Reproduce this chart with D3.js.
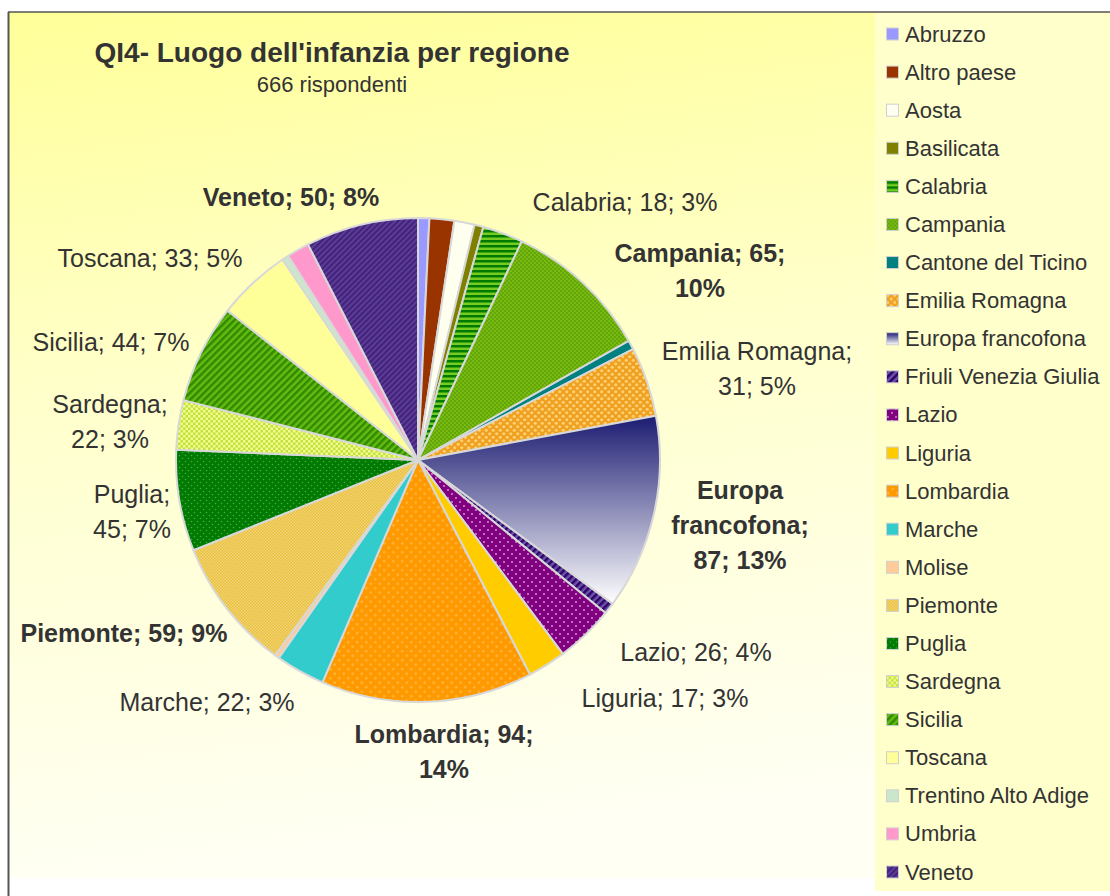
<!DOCTYPE html>
<html>
<head>
<meta charset="utf-8">
<script src="https://cdn.jsdelivr.net/npm/d3@7"></script>
<style>
  html, body { margin: 0; padding: 0; background: #ffffff; }
  svg { display: block; }
  text { font-family: "Liberation Sans", Arial, sans-serif; fill: #333333; }
</style>
</head>
<body>
<svg id="chart" width="1110" height="896"></svg>
<script>
// ---------- data ----------
const titleText = "QI4- Luogo dell'infanzia per regione";
const subtitleText = "666 rispondenti";
const categories = [
  "Abruzzo", "Altro paese", "Aosta", "Basilicata", "Calabria", "Campania",
  "Cantone del Ticino", "Emilia Romagna", "Europa francofona", "Friuli Venezia Giulia",
  "Lazio", "Liguria", "Lombardia", "Marche", "Molise", "Piemonte", "Puglia",
  "Sardegna", "Sicilia", "Toscana", "Trentino Alto Adige", "Umbria", "Veneto"
];
const values = [5, 11, 9, 4, 18, 65, 4, 31, 87, 5, 26, 17, 94, 22, 2, 59, 45, 22, 44, 33, 3, 10, 50];
const fills = [
  "#9999ff", "#993300", "#fffff0", "#808000", "url(#pCalabria)", "url(#pCampania)",
  "#008080", "url(#pEmilia)", "url(#gEuropa)", "url(#pFriuli)",
  "url(#pLazio)", "#ffcc00", "url(#pLombardia)", "#33cccc", "#ffcc99", "url(#pPiemonte)", "url(#pPuglia)",
  "url(#pSardegna)", "url(#pSicilia)", "#ffff99", "#cce6cc", "#ff99cc", "url(#pVeneto)"
];

// label placement (text layout only): centre x, first line centre y, tokens per line
const labelLayout = {
  "Veneto":            { x: 291, y: 197, lines: [4] },
  "Calabria":          { x: 625, y: 202, lines: [3] },
  "Campania":          { x: 700, y: 253, lines: [2, 1] },
  "Emilia Romagna":    { x: 757, y: 351, lines: [2, 2] },
  "Europa francofona": { x: 740, y: 490, lines: [1, 1, 2] },
  "Lazio":             { x: 696, y: 652, lines: [3] },
  "Liguria":           { x: 665, y: 698, lines: [3] },
  "Lombardia":         { x: 444, y: 734, lines: [2, 1] },
  "Marche":            { x: 207, y: 702, lines: [3] },
  "Piemonte":          { x: 124, y: 633, lines: [3] },
  "Puglia":            { x: 132, y: 494, lines: [1, 2] },
  "Sardegna":          { x: 110, y: 404, lines: [1, 2] },
  "Sicilia":           { x: 111, y: 342, lines: [3] },
  "Toscana":           { x: 150, y: 258, lines: [3] }
};

// ---------- drawing ----------
const svg = d3.select("#chart");
const defs = svg.append("defs");

// background gradient
const bg = defs.append("linearGradient").attr("id", "bgGrad")
  .attr("x1", 0).attr("y1", 0).attr("x2", 0.15).attr("y2", 1);
bg.append("stop").attr("offset", "0%").attr("stop-color", "#ffff99");
bg.append("stop").attr("offset", "45%").attr("stop-color", "#ffffcc");
bg.append("stop").attr("offset", "100%").attr("stop-color", "#fffff4");

// Europa gradient
const ge = defs.append("linearGradient").attr("id", "gEuropa")
  .attr("x1", 0).attr("y1", 0).attr("x2", 0).attr("y2", 1);
ge.append("stop").attr("offset", "0%").attr("stop-color", "#1c1c72");
ge.append("stop").attr("offset", "100%").attr("stop-color", "#ffffff");

function stripes(id, w, c1, c2, rot) {
  const p = defs.append("pattern").attr("id", id).attr("patternUnits", "userSpaceOnUse")
    .attr("width", w).attr("height", w);
  if (rot !== null) p.attr("patternTransform", `rotate(${rot})`);
  p.append("rect").attr("width", w).attr("height", w).attr("fill", c2);
  p.append("rect").attr("width", w).attr("height", w / 2).attr("fill", c1);
}
function dots(id, w, base, dotc, r) {
  const p = defs.append("pattern").attr("id", id).attr("patternUnits", "userSpaceOnUse")
    .attr("width", w).attr("height", w);
  p.append("rect").attr("width", w).attr("height", w).attr("fill", base);
  p.append("circle").attr("cx", w / 4).attr("cy", w / 4).attr("r", r).attr("fill", dotc);
  p.append("circle").attr("cx", 3 * w / 4).attr("cy", 3 * w / 4).attr("r", r).attr("fill", dotc);
}
function checker(id, w, c1, c2) {
  const p = defs.append("pattern").attr("id", id).attr("patternUnits", "userSpaceOnUse")
    .attr("width", w).attr("height", w);
  p.append("rect").attr("width", w).attr("height", w).attr("fill", c1);
  p.append("rect").attr("width", w / 2).attr("height", w / 2).attr("fill", c2);
  p.append("rect").attr("x", w / 2).attr("y", w / 2).attr("width", w / 2).attr("height", w / 2).attr("fill", c2);
}
stripes("pCalabria", 5, "#007a00", "#77cc22", null);
dots("pCampania", 4, "#77bb11", "#5a9a06", 0.9);
dots("pEmilia", 7, "#f0a020", "#ffd070", 1.6);
stripes("pFriuli", 5, "#330066", "#6655aa", -45);
dots("pLazio", 8, "#800080", "#d9a0d9", 0.9);
dots("pLombardia", 9, "#ff9900", "#ffb030", 1.4);
checker("pPiemonte", 3, "#e8c040", "#f2d474");
dots("pPuglia", 6, "#007a00", "#44aa44", 0.8);
checker("pSardegna", 5, "#c4e03a", "#f0ff90");
stripes("pSicilia", 5, "#2f8a00", "#66bb11", -45);
stripes("pVeneto", 4, "#442277", "#5a3d9a", -45);

// chart area
svg.append("rect").attr("x", 9).attr("y", 12).attr("width", 1101).attr("height", 866)
  .attr("fill", "url(#bgGrad)");
svg.append("line").attr("x1", 8).attr("y1", 12).attr("x2", 1110).attr("y2", 12)
  .attr("stroke", "#555555").attr("stroke-width", 1.5);
svg.append("line").attr("x1", 8.5).attr("y1", 12).attr("x2", 8.5).attr("y2", 896)
  .attr("stroke", "#555555").attr("stroke-width", 2);

// title
svg.append("text").attr("x", 332).attr("y", 52).attr("text-anchor", "middle")
  .attr("dominant-baseline", "central")
  .style("font-size", "28px").style("font-weight", "bold").text(titleText);
svg.append("text").attr("x", 332).attr("y", 84).attr("text-anchor", "middle")
  .attr("dominant-baseline", "central")
  .style("font-size", "22px").text(subtitleText);

// pie
const total = d3.sum(values);
const cx = 418, cy = 460, radius = 242;
const data = categories.map((c, i) => ({ name: c, value: values[i], fill: fills[i] }));
const pie = d3.pie().value(d => d.value).sort(null);
const arc = d3.arc().innerRadius(0).outerRadius(radius);
const g = svg.append("g").attr("transform", `translate(${cx},${cy})`);
g.selectAll("path").data(pie(data)).join("path")
  .attr("d", arc)
  .attr("fill", d => d.data.fill)
  .attr("stroke", "#d8d8d8").attr("stroke-width", 2).attr("stroke-linejoin", "round");

// data labels
const lineH = 35;
data.forEach(d => {
  const lay = labelLayout[d.name];
  if (!lay) return;
  const pct = Math.round(d.value / total * 100);
  const tokens = `${d.name}; ${d.value}; ${pct}%`.split(" ");
  let k = 0;
  const bold = d.value >= 50;
  lay.lines.forEach((n, li) => {
    const str = tokens.slice(k, k + n).join(" ");
    k += n;
    svg.append("text").attr("x", lay.x).attr("y", lay.y + li * lineH)
      .attr("text-anchor", "middle").attr("dominant-baseline", "central")
      .style("font-size", "25px").style("font-weight", bold ? "bold" : "normal")
      .text(str);
  });
});

// legend
svg.append("rect").attr("x", 875).attr("y", 13).attr("width", 235).attr("height", 878)
  .attr("fill", "#ffffcc");
const ly = d3.scalePoint().domain(categories).range([34, 872]);
const lg = svg.append("g").selectAll("g").data(data).join("g")
  .attr("transform", d => `translate(886,${ly(d.name)})`);
lg.append("rect").attr("x", 0.5).attr("y", -6).attr("width", 12).attr("height", 12)
  .attr("fill", d => d.fill).attr("stroke", "#d0d0d0").attr("stroke-width", 1);
lg.append("text").attr("x", 19).attr("y", 0).attr("dominant-baseline", "central")
  .style("font-size", "22px").text(d => d.name);
</script>
</body>
</html>
